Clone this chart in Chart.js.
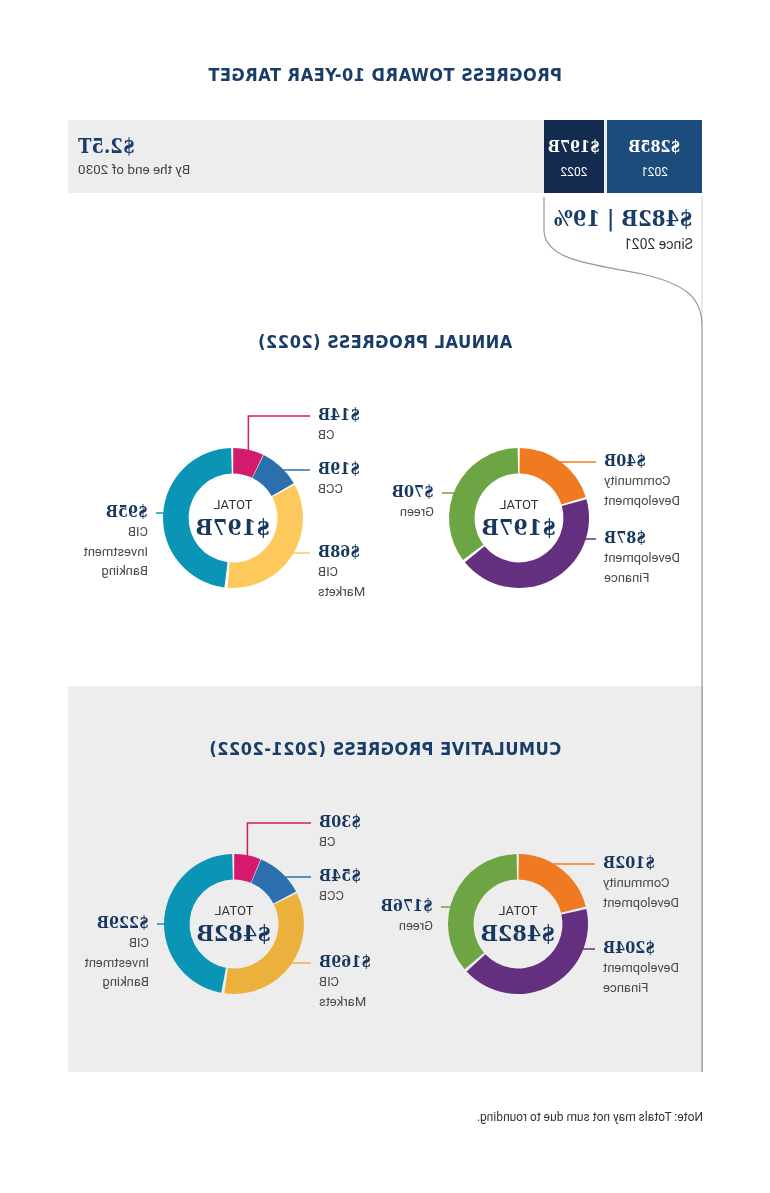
<!DOCTYPE html>
<html>
<head>
<meta charset="utf-8">
<title>Progress toward 10-year target</title>
<script src="https://cdn.jsdelivr.net/npm/chart.js@4.4.0/dist/chart.umd.min.js"></script>
<style>
  html, body { margin: 0; padding: 0; background: #fff; overflow: hidden; }
  /* the reference picture is a mirror image, so the whole sheet is flipped */
  #page { position: relative; width: 770px; height: 1193px; transform: scaleX(-1); font-family: Roboto, "Noto Sans", sans-serif; }
  .abs { position: absolute; }
  .head { left: 0; width: 770px; text-align: center; color: #193d69; font-family: "DejaVu Sans Condensed", "DejaVu Sans", sans-serif; font-weight: bold; font-stretch: condensed; font-size: 18px; letter-spacing: 0.5px; }
  .slab { font-family: "DejaVu Serif Condensed", "DejaVu Serif", serif; font-weight: bold; font-stretch: condensed; }
  .box { background: #ededed; }
  .tile { color: #fff; text-align: center; }
  .tile .v { font-size: 16px; margin-top: 17px; }
  .tile .y { font-size: 12px; margin-top: 9px; }
  canvas { position: absolute; }
</style>
</head>
<body>
<div id="page">
  <div class="abs head" style="top:64px">PROGRESS TOWARD 10-YEAR TARGET</div>

  <div class="abs box" style="left:68px; top:120px; width:634px; height:73px"></div>
  <div id="tiles"></div>
  <div class="abs slab" id="target" style="right:78px; top:134px; font-size:20px; color:#193d69"></div>
  <div class="abs" id="targetNote" style="right:78px; top:161px; font-size:13.5px; color:#444"></div>

  <div class="abs slab" id="sinceValue" style="left:77px; top:205px; font-size:22px; color:#193d69"></div>
  <div class="abs" id="sinceNote" style="left:77px; top:236px; font-size:14px; color:#333"></div>

  <svg class="abs" style="left:0; top:0" width="770" height="1193">
    <path d="M68,196 V325" stroke="#d4d4d4" stroke-width="1" fill="none"/>
    <path d="M226,197 V230 C226,262 170,265 128,274 C84,284 68,298 68,326 V1072" stroke="#9a9a9a" stroke-width="1.2" fill="none"/>
  </svg>

  <div class="abs head" style="top:331px">ANNUAL PROGRESS (2022)</div>

  <div class="abs box" style="left:68px; top:686px; width:634px; height:386px"></div>
  <svg class="abs" style="left:0; top:0" width="770" height="1193">
    <path d="M68,686 V1072" stroke="#9a9a9a" stroke-width="1.2" fill="none"/>
  </svg>
  <div class="abs head" style="top:738px">CUMULATIVE PROGRESS (2021-2022)</div>

  <canvas id="annualLob" width="340" height="230" style="left:367px; top:390px"></canvas>
  <canvas id="annualPurpose" width="340" height="230" style="left:81px; top:390px"></canvas>
  <canvas id="cumLob" width="340" height="230" style="left:366px; top:796px"></canvas>
  <canvas id="cumPurpose" width="340" height="230" style="left:82px; top:796px"></canvas>

  <div class="abs" style="left:67px; top:1110px; font-size:12px; color:#333">Note: Totals may not sum due to rounding.</div>
</div>

<script>
// banner
const progressYears = ["2021", "2022"];
const progressValues = [285, 197];
const targetText = "$2.5T";
const targetNoteText = "By the end of 2030";
const cumulativeValue = 482;
const cumulativePercent = 19;

// business lines (clockwise order as drawn)
const lobCategories = [["CIB", "Investment", "Banking"], ["CIB", "Markets"], ["CCB"], ["CB"]];
const lobAnnual = [95, 68, 19, 14];
const lobCumulative = [229, 169, 54, 30];

// purpose split
const purposeCategories = [["Green"], ["Development", "Finance"], ["Community", "Development"]];
const purposeAnnual = [70, 87, 40];
const purposeCumulative = [176, 204, 102];

const totals = [197, 482];

const navy = "#17375e";

// tiles for the yearly amounts
const tileBoxes = [{ left: 68, width: 95, color: "#1c4c7c" }, { left: 166, width: 60, color: "#122b4e" }];
const tilesEl = document.getElementById("tiles");
progressYears.forEach((yr, i) => {
  const t = document.createElement("div");
  t.className = "abs tile";
  t.style.cssText = `left:${tileBoxes[i].left}px; top:120px; width:${tileBoxes[i].width}px; height:73px; background:${tileBoxes[i].color}`;
  t.innerHTML = `<div class="v slab">$${progressValues[i]}B</div><div class="y">${yr}</div>`;
  tilesEl.appendChild(t);
});
document.getElementById("target").textContent = targetText;
document.getElementById("targetNote").textContent = targetNoteText;
document.getElementById("sinceValue").textContent = `$${cumulativeValue}B | ${cumulativePercent}%`;
document.getElementById("sinceNote").textContent = "Since " + progressYears[0];

// leader lines, labels and centre total
const leaders = {
  id: "leaders",
  afterDatasetsDraw(chart, args, opts) {
    const ctx = chart.ctx;
    const ds = chart.data.datasets[0];
    const arcs = chart.getDatasetMeta(0).data;
    ctx.save();
    arcs.forEach((arc, i) => {
      const p = arc.getProps(["x", "y", "startAngle", "endAngle", "outerRadius"], true);
      const place = opts.placement[i];
      const dir = place.side === "L" ? -1 : 1;
      const ly = p.y + place.dy;
      const endX = p.x + dir * (opts.gap - 8);
      ctx.strokeStyle = ds.backgroundColor[i];
      ctx.lineWidth = 1.5;
      ctx.beginPath();
      if (Math.abs(place.dy) < p.outerRadius - 6) {
        ctx.moveTo(p.x + dir * Math.sqrt(p.outerRadius ** 2 - place.dy ** 2), ly);
        ctx.lineTo(endX, ly);
      } else {
        const mid = (p.startAngle + p.endAngle) / 2;
        const sx = p.x + Math.cos(mid) * p.outerRadius;
        const sy = p.y + Math.sin(mid) * p.outerRadius;
        ctx.moveTo(sx, sy);
        ctx.lineTo(sx, ly);
        ctx.lineTo(endX, ly);
      }
      ctx.stroke();

      const tx = p.x + dir * opts.gap;
      ctx.textAlign = dir < 0 ? "right" : "left";
      ctx.textBaseline = "middle";
      ctx.fillStyle = navy;
      ctx.font = 'bold 16px "DejaVu Serif Condensed", "DejaVu Serif", serif';
      ctx.fillText("$" + ds.data[i] + "B", tx, ly);
      ctx.fillStyle = "#4a4a4a";
      ctx.font = '13px Roboto, sans-serif';
      chart.data.labels[i].forEach((line, k) => ctx.fillText(line, tx, ly + 20 + k * 19.5));
    });
    const c = arcs[0].getProps(["x", "y"], true);
    ctx.textAlign = "center";
    ctx.textBaseline = "middle";
    ctx.fillStyle = "#333";
    ctx.font = '13px Roboto, sans-serif';
    ctx.fillText("TOTAL", c.x, c.y - 12);
    ctx.fillStyle = navy;
    ctx.font = 'bold 23px "DejaVu Serif Condensed", "DejaVu Serif", serif';
    ctx.fillText("$" + opts.total + "B", c.x, c.y + 11);
    ctx.restore();
  }
};

function donut(id, labels, values, colors, placement, total) {
  new Chart(document.getElementById(id), {
    type: "doughnut",
    data: {
      labels: labels,
      datasets: [{ data: values, backgroundColor: colors, borderWidth: 0 }]
    },
    options: {
      responsive: false,
      animation: false,
      events: [],
      cutout: "63%",
      spacing: 2,
      layout: { padding: { top: 58, bottom: 32, left: 100, right: 100 } },
      plugins: {
        legend: { display: false },
        tooltip: { enabled: false },
        leaders: { placement: placement, gap: 85, total: total }
      }
    },
    plugins: [leaders]
  });
}

donut("annualLob", lobCategories, lobAnnual, ["#0a95b6", "#fec95c", "#2c6fad", "#d41a6d"],
  [{ side: "R", dy: -5 }, { side: "L", dy: 35 }, { side: "L", dy: -48 }, { side: "L", dy: -102 }], totals[0]);
donut("annualPurpose", purposeCategories, purposeAnnual, ["#6da544", "#652f7f", "#ef7a22"],
  [{ side: "R", dy: -25 }, { side: "L", dy: 21 }, { side: "L", dy: -56 }], totals[0]);
donut("cumLob", lobCategories, lobCumulative, ["#0a95b6", "#ecb13d", "#2c6fad", "#d41a6d"],
  [{ side: "R", dy: 0 }, { side: "L", dy: 39 }, { side: "L", dy: -47 }, { side: "L", dy: -101 }], totals[1]);
donut("cumPurpose", purposeCategories, purposeCumulative, ["#6da544", "#652f7f", "#ef7a22"],
  [{ side: "R", dy: -17 }, { side: "L", dy: 25 }, { side: "L", dy: -60 }], totals[1]);
</script>
</body>
</html>
